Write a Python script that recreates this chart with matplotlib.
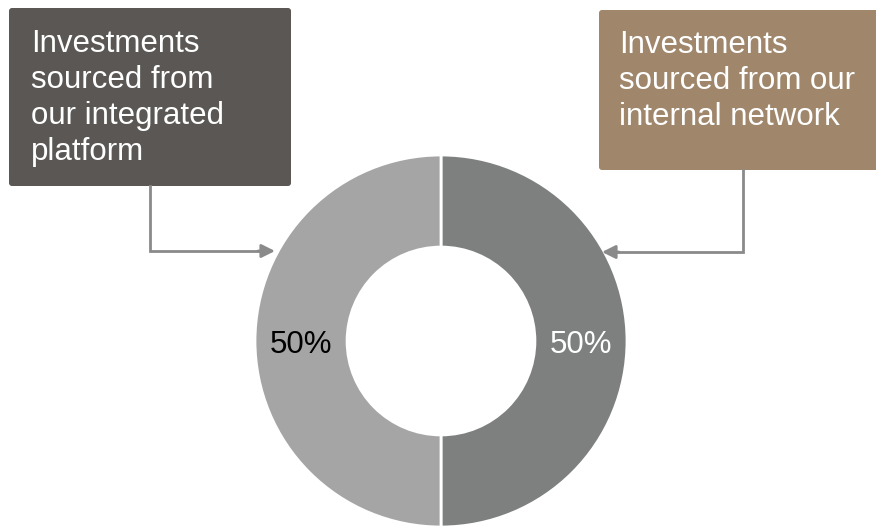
import matplotlib.pyplot as plt
from matplotlib.patches import FancyBboxPatch

plt.rcParams['font.family'] = ['Liberation Sans', 'DejaVu Sans']

# donut: right half first (clockwise from top), then left half
shares = [50, 50]
wedge_colors = ['#7e8080', '#a5a5a5']
pct_colors = ['white', 'black']

box_texts = ['Investments\nsourced from\nour integrated\nplatform',
             'Investments\nsourced from our\ninternal network']
box_colors = ['#5a5754', '#a0876c']

W, H = 876, 528
fig = plt.figure(figsize=(W / 100, H / 100), dpi=100)
ax = fig.add_axes([0, 0, 1, 1])
ax.set_xlim(0, W)
ax.set_ylim(0, H)
ax.set_aspect('equal')
ax.axis('off')

cx, cy, r = 441, H - 341, 186
wedges, _, pcts = ax.pie(shares, colors=wedge_colors, startangle=90,
                         counterclock=False, center=(cx, cy), radius=r,
                         autopct=lambda p: f'{p:.0f}%', pctdistance=0.755,
                         wedgeprops=dict(width=r * 0.495, edgecolor='white', linewidth=2),
                         textprops=dict(fontsize=22.5))
for t, c in zip(pcts, pct_colors):
    t.set_color(c)
    x, y = t.get_position()
    t.set_position((x, y - 4))
ax.set_xlim(0, W)
ax.set_ylim(0, H)

# label boxes
boxes = [(9, H - 186, 282, 178), (599, H - 170, 280, 160)]
text_pos = [(31, H - 29), (619, H - 30)]
for (x, y, w, h), col, txt, (tx, ty) in zip(boxes, box_colors, box_texts, text_pos):
    ax.add_patch(FancyBboxPatch((x, y), w, h, boxstyle='round,pad=0,rounding_size=3',
                                fc=col, ec='none'))
    ax.text(tx, ty, txt, color='white', fontsize=22.5, ha='left', va='top',
            linespacing=1.26)

# connectors
line_col = '#8a8a8a'
ax.plot([150, 150, 262], [H - 186, H - 251, H - 251], color=line_col, lw=2,
        solid_joinstyle='miter')
ax.annotate('', xy=(275, H - 251), xytext=(258, H - 251),
            arrowprops=dict(arrowstyle='-|>,head_length=0.8,head_width=0.4',
                            color=line_col, lw=2, shrinkA=0, shrinkB=0))
ax.plot([743, 743, 615], [H - 170, H - 252, H - 252], color=line_col, lw=2,
        solid_joinstyle='miter')
ax.annotate('', xy=(602, H - 252), xytext=(619, H - 252),
            arrowprops=dict(arrowstyle='-|>,head_length=0.8,head_width=0.4',
                            color=line_col, lw=2, shrinkA=0, shrinkB=0))

fig.savefig('out.png', dpi=100)
